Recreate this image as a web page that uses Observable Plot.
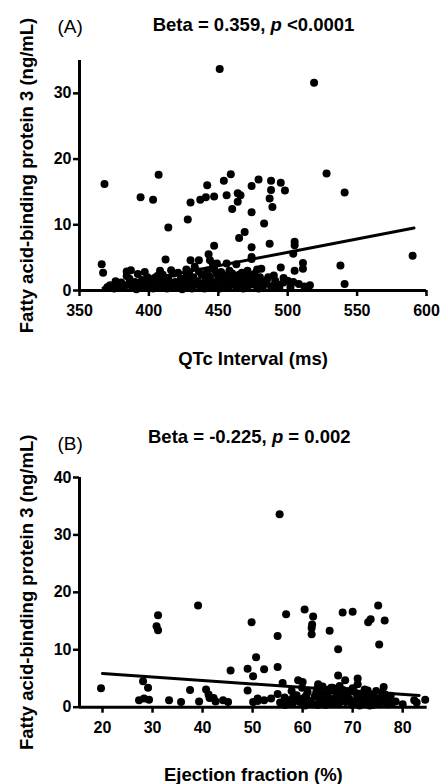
<!DOCTYPE html>
<html><head><meta charset="utf-8">
<script src="https://cdn.jsdelivr.net/npm/d3@7"></script>
<script src="https://cdn.jsdelivr.net/npm/@observablehq/plot@0.6"></script>
<style>
body{margin:0;background:#fff;}
#wrap{position:relative;width:441px;height:784px;overflow:hidden;font-family:"Liberation Sans",Arial,sans-serif;color:#000;}
.panel{position:absolute;left:0;}
.title{position:absolute;width:400px;text-align:center;font-size:18.5px;font-weight:bold;line-height:20px;white-space:nowrap;}
</style></head><body><div id="wrap"></div>
<script>
// ---- Panel A data: QTc interval (ms) vs FABP3 (ng/mL)
const qtcFabp3 = [
  [451,33.7],[519,31.6],[368,16.2],[407,17.6],[394,14.2],[403,13.8],[428,10.8],[414,9.6],[430,13.4],[437,13.8],
  [441,14.2],[447,14.3],[442,16.0],[454,16.7],[459,17.7],[456,14.5],[460,12.4],[464,14.8],[466,14.5],[464,13.5],
  [474,15.9],[474,11.9],[479,16.9],[483,10.2],[487,14.0],[489,12.7],[488,15.3],[488,16.7],[495,16.4],[498,15.2],
  [528,17.8],[541,14.9],
  [469,8.9],[465,8.0],[447,6.8],[474,6.6],[487,7.1],[505,7.4],[505,6.9],[504,5.6],[590,5.3],[538,3.8],
  [541,1.0],[511,4.2],[511,3.3],[505,3.0],[495,3.5],[366,4.0],[367,2.7],[384,2.9],[387,3.1],[412,4.7],
  [430,4.6],[436,4.6],[443,5.5],[444,4.6],[449,4.1],[474,5.1],[474,4.8],[478,3.2],[481,3.3],[476,2.5],
  [480,2.0],[490,2.3],[491,1.5],[497,1.9],[500,1.5],[483,1.0],[490,0.8],[508,1.0],[512,0.6],[516,0.8],
  [408,3.0],[427,3.2],[433,3.6],[446,4.1],[456,4.1],[463,4.0],[471,3.0],[452,2.8],[460,2.6],[468,1.8],
  [370,0.5],[372,0.8],[375,0.3],[378,0.6],[380,1.2],[382,0.4],[385,0.9],[386,1.8],[388,0.5],[390,1.3],
  [391,0.2],[393,0.8],[395,1.6],[396,0.4],[398,1.1],[399,2.0],[400,0.6],[402,1.4],[403,0.3],[405,0.9],
  [406,2.2],[408,0.5],[409,1.5],[410,2.4],[411,0.8],[413,0.3],[414,1.9],[415,1.1],[417,0.6],[418,2.6],
  [419,1.3],[420,0.4],[422,0.9],[423,1.8],[424,0.2],[426,1.2],[427,2.3],[428,0.7],[430,1.5],[431,0.3],
  [432,2.0],[434,0.9],[435,1.4],[437,0.5],[438,2.4],[439,1.1],[440,0.3],[441,1.7],[442,3.0],[443,0.8],
  [444,2.1],[445,0.4],[446,1.3],[448,0.7],[449,2.6],[450,1.0],[451,0.3],[452,1.8],[454,0.6],[455,2.3],
  [456,1.2],[457,0.4],[459,1.6],[460,0.9],[462,2.2],[463,0.5],[464,1.4],[466,0.8],[467,2.7],[468,0.3],
  [470,1.2],[471,0.6],[473,1.9],[474,0.9],[476,1.4],[478,0.5],[480,1.1],[482,0.4],[485,1.6],[488,0.6],
  [493,0.9],[497,1.2],[502,0.5],[504,1.3],
  [376,1.4],[384,2.2],[392,2.5],[397,2.8],[404,1.9],[412,1.6],[416,3.1],[421,2.7],[425,1.6],[429,2.8],
  [433,1.1],[436,2.9],[440,2.3],[447,3.2],[450,2.0],[453,1.2],[458,3.0],[461,1.7],[465,2.4],[469,1.0],
  [472,2.4],[477,1.8],[479,0.3],[486,2.0],[494,0.4]
];
const fitA = [[367,0.4],[591,9.5]];
const xTicksA = [350,400,450,500,550,600];
const yTicksA = [0,10,20,30];

// ---- Panel B data: Ejection fraction (%) vs FABP3 (ng/mL)
const efFabp3 = [
  [55.4,33.6],[31.1,16.0],[30.8,14.1],[31.1,13.4],[39.1,17.7],[49.8,14.8],[50.7,8.7],[56.7,16.2],[60.4,17.0],[62.1,15.8],
  [61.9,14.4],[61.8,13.8],[61.8,12.7],[65.4,13.3],[67.1,10.1],[68.0,16.5],[70.0,16.6],[73.1,14.8],[73.6,15.3],[75.1,17.7],
  [76.4,15.1],[75.3,10.9],[55.0,12.4],
  [19.7,3.3],[28.1,4.5],[29.1,3.4],[27.3,1.2],[28.3,1.5],[29.3,1.3],[33.3,1.2],[35.7,0.9],[37.5,3.0],[39.3,1.0],
  [40.7,3.1],[41.2,2.2],[41.4,1.6],[42.2,1.6],[42.6,1.0],[44.1,1.2],[45.1,0.9],[45.6,6.4],[49.0,6.7],[50.1,5.4],
  [49.0,2.9],[50.1,0.9],[51.0,1.1],[52.3,6.6],[55.0,7.0],[56.0,4.2],[59.1,4.7],[60.0,4.4],[63.1,4.0],[67.1,5.5],
  [68.5,4.7],[71.0,5.0],[71.0,4.0],[76.2,3.5],[72.4,3.1],[65.7,3.4],[67.4,3.7],[51,1.5],[52.3,1.2],[53.7,1.5],
  [55,2.3],[56.4,1.7],[58.1,1.7],[84.5,1.3],[82.3,1.2],[80,0.5],[82.8,0.8],
  [55.5,0.8],[56.5,0.4],[57.3,1.2],[58,0.6],[58.8,2.1],[59.4,0.9],[60.1,1.5],[60.5,0.3],[61.0,2.6],[61.5,1.1],
  [62,0.5],[62.4,1.8],[62.9,3.2],[63.3,0.8],[63.8,2.3],[64.2,1.3],[64.6,0.4],[65.0,1.9],[65.5,2.8],[65.9,0.7],
  [66.3,1.5],[66.8,2.4],[67.2,0.5],[67.7,1.2],[68.1,3.0],[68.6,0.9],[69.0,2.0],[69.4,1.4],[69.9,0.4],[70.3,2.7],
  [70.7,1.1],[71.2,0.6],[71.6,1.8],[72.0,2.4],[72.5,0.8],[72.9,1.5],[73.4,0.3],[73.8,2.1],[74.2,1.0],[74.7,2.8],
  [75.1,0.6],[75.6,1.6],[76.0,0.9],[76.5,2.2],[77.0,0.5],[77.5,1.3],[78.0,0.8],[78.6,1.0],[66,3.4],[64,3.6],
  [70,3.3],[73,2.9],
  [57.8,2.8],[59.9,3.4],[61.3,0.9],[62.7,2.5],[63.6,1.6],[64.9,3.0],[66.1,1.0],[67.5,2.1],[68.9,2.8],[69.6,0.9],
  [70.9,2.0],[71.9,1.3],[73.2,2.2],[74.5,1.6],[75.9,2.6],[76.8,1.0],[59.0,1.3],[60.7,2.0],[63.0,0.4],[65.2,1.2],
  [68.0,1.8],[71.4,0.3],[74.0,0.4],[77.6,2.0]
];
const fitB = [[20,5.85],[83.3,2.05]];
const xTicksB = [20,30,40,50,60,70,80];
const yTicksB = [0,10,20,30,40];

const yLabel = "Fatty acid-binding protein 3 (ng/mL)";

function panel({points, fit, xDomain, yDomain, xTicks, yTicks, xLabel, tag, marginTop, marginBottom, marginRight}) {
  return Plot.plot({
    width: 441, height: 392,
    marginLeft: 79, marginRight, marginTop, marginBottom,
    x: {domain: xDomain}, y: {domain: yDomain},
    style: {fontFamily: "'Liberation Sans', Arial, sans-serif", fontSize: "16px", fontWeight: "bold", color: "black", background: "transparent", overflow: "visible"},
    marks: [
      Plot.dot(points, {x: d => d[0], y: d => d[1], r: 4, fill: "black"}),
      Plot.line(fit, {x: d => d[0], y: d => d[1], stroke: "black", strokeWidth: 3}),
      Plot.ruleY([yDomain[0]], {stroke: "black", strokeWidth: 3}),
      Plot.ruleX([xDomain[0]], {stroke: "black", strokeWidth: 3}),
      Plot.axisX({ticks: xTicks, tickSize: 6, tickPadding: 8, strokeWidth: 2.5, label: null, fontSize: 16, fontWeight: "bold"}),
      Plot.axisY({ticks: yTicks, tickSize: 6, tickPadding: 2, strokeWidth: 2.5, label: null, fontSize: 16, fontWeight: "bold"}),
      Plot.text([xLabel], {text: d => d, frameAnchor: "bottom", textAnchor: "middle", lineAnchor: "bottom", dy: 74, fontSize: 18.5, fontWeight: "bold"}),
      Plot.text([yLabel], {text: d => d, frameAnchor: "left", textAnchor: "middle", lineAnchor: "middle", rotate: -90, dx: -52, fontSize: 18.5, fontWeight: "bold"}),
      Plot.text([tag], {text: d => d, frameAnchor: "top-left", textAnchor: "start", lineAnchor: "bottom", dx: -22, dy: -28, fontSize: 19, fontWeight: "normal"})
    ]
  });
}

const wrap = document.getElementById("wrap");
const A = panel({points: qtcFabp3, fit: fitA, xDomain: [350,600], yDomain: [0,35], xTicks: xTicksA, yTicks: yTicksA,
  xLabel: "QTc Interval (ms)", tag: "(A)", marginTop: 60, marginBottom: 102, marginRight: 15});
A.classList.add("panel"); A.style.top = "0px";
wrap.appendChild(A);

const B = panel({points: efFabp3, fit: fitB, xDomain: [15.4,84.9], yDomain: [0,40], xTicks: xTicksB, yTicks: yTicksB,
  xLabel: "Ejection fraction (%)", tag: "(B)", marginTop: 85, marginBottom: 77.3, marginRight: 14.3});
B.classList.add("panel"); B.style.top = "392px";
wrap.appendChild(B);

const tA = document.createElement("div");
tA.className = "title"; tA.style.left = "53.5px"; tA.style.top = "15.3px";
tA.innerHTML = "Beta = 0.359, <i>p</i> &lt;0.0001";
wrap.appendChild(tA);
const tB = document.createElement("div");
tB.className = "title"; tB.style.left = "49.3px"; tB.style.top = "426.9px";
tB.innerHTML = "Beta = -0.225, <i>p</i> = 0.002";
wrap.appendChild(tB);
</script></body></html>
